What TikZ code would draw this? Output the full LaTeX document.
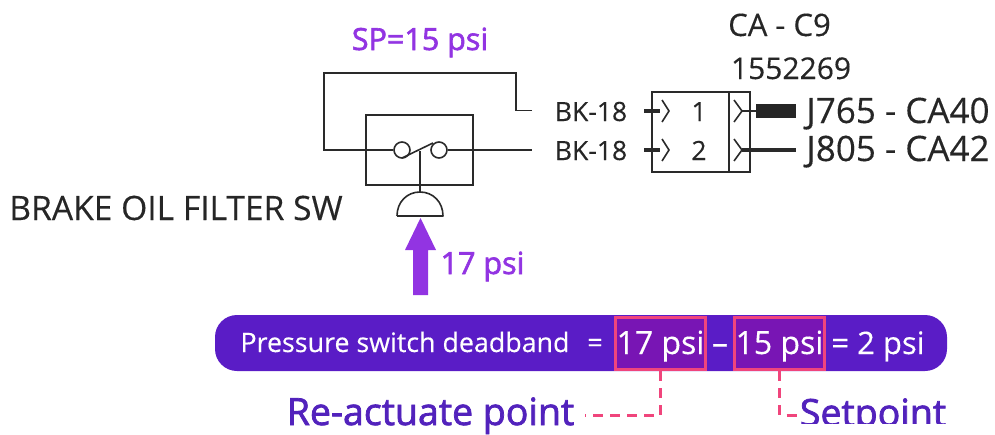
\documentclass[tikz,border=0pt]{standalone}
\usepackage{fontspec}
\setmainfont{Open Sans}[FakeBold=0.3]
\newfontfamily\semifont{Open Sans}[FakeBold=2]
\definecolor{bandfill}{HTML}{5A1CC6}
\definecolor{boxfill}{HTML}{7815B4}
\definecolor{boxline}{HTML}{F0457C}
\definecolor{headcol}{HTML}{9234E2}
\definecolor{namecol}{HTML}{5222BC}
\definecolor{wirecol}{HTML}{2A2A2A}
\newcommand{\fsize}[1]{\fontsize{#1}{#1}\selectfont}
\begin{document}
\begin{tikzpicture}[x=1pt, y=-1pt,
			wire/.style={draw=wirecol, line width=1.6pt},
			stub/.style={draw=wirecol, line width=4.5pt},
			txt/.style={inner sep=0pt, text=black!85, anchor=base},
			head/.style={inner sep=0pt, text=headcol, anchor=base, font=\semifont\fsize{30.5}},
			white txt/.style={inner sep=0pt, text=white, anchor=base},
			name txt/.style={inner sep=0pt, text=namecol, anchor=base, font=\semifont\fsize{37.5}},
			value/.style={draw=boxline, fill=boxfill, line width=3pt, minimum width=90pt, minimum height=52pt, inner sep=0pt},
			lead/.style={draw=boxline, line width=3pt, dash pattern=on 10pt off 7pt}]
			\useasboundingbox (0, 0) rectangle (995, 434);
			% switch
			\node (swbox) at (419.5, 150) [wire, minimum width=107pt, minimum height=70pt, inner sep=0pt] {};
			\node (cl) at (402, 150) [wire, fill=white, circle, minimum size=16pt, inner sep=0pt] {};
			\node (cr) at (439, 150) [wire, fill=white, circle, minimum size=16pt, inner sep=0pt] {};
			\coordinate (loop) at (324, 150);
			\coordinate (pinb) at (532, 150);
			\coordinate (pina) at (532, 110.5);
			\draw[wire] (pina) -- (516, 110.5) -- (516, 73) -- (324, 73) -- (loop) -- (cl.west);
			\draw[wire] (cr.east) -- (pinb);
			\coordinate (blade) at (402, 158);
			\coordinate (bladeend) at (433, 143);
			\draw[wire] (blade) -- (bladeend);
			\coordinate (domet) at (420, 192);
			\draw[wire] (420, 151) -- (domet);
			\draw[wire, line join=round] (397, 216) -- (443, 216) .. controls (443, 202) and (433, 192) .. (domet) .. controls (407, 192) and (397, 202) .. (397, 216);
			\node (lblsw) at (176, 220) [txt, font=\fsize{33.6}] {BRAKE OIL FILTER SW};
			\node (lblsp) at (420, 50) [head] {SP=15 psi};
			\fill[headcol] (420.5, 218) -- (436, 250) -- (428, 250) -- (428, 295) -- (413, 295) -- (413, 250) -- (405, 250) -- cycle;
			\node (lblp) at (482.5, 274) [head] {17 psi};
			% connector
			\node (conn) at (701, 132) [wire, minimum width=98pt, minimum height=80pt, inner sep=0pt] {};
			\draw[wire] (729, 92) -- (729, 172);
			\foreach \y/\n/\w in {111/1/BK-18, 150/2/BK-18}
			{
				\draw[stub] (644, \y) -- (660, \y);
				\draw[wire] (662, \y-11) -- (669, \y) -- (662, \y+11);
				\draw[wire] (734, \y-11) -- (742, \y) -- (734, \y+11);
				\node at (699, \y+10) [txt, font=\fsize{26.5}] {\n};
				\node at (591, \y+10) [txt, font=\fsize{26.5}] {\w};
			}
			\draw[wire] (742, 111) -- (757, 111);
			\fill[black!85] (756, 104) rectangle (796, 118);
			\draw[stub] (742, 150) -- (796, 150);
			\node (lblca) at (779.5, 36) [txt, font=\fsize{31}] {CA - C9};
			\node (lblpn) at (791, 79) [txt, font=\fsize{30}] {1552269};
			\node (lblj) at (898, 123) [txt, font=\fsize{35}] {J765 - CA40};
			\node (lblk) at (898, 161) [txt, font=\fsize{35}] {J805 - CA42};
			% band
			\fill[bandfill, rounded corners=22pt] (215, 315) rectangle (947, 371);
			\node (va) at (660.5, 343.5) [value] {};
			\node (vb) at (779.5, 343.5) [value] {};
			\node (eqa) at (405, 352) [white txt, font=\fsize{26.8}] {Pressure switch deadband};
			\node (eqb) at (595, 352) [white txt, font=\fsize{26.8}] {=};
			\node (eqc) at (660.5, 354) [white txt, font=\fsize{32}] {17 psi};
			\node (eqd) at (720, 354) [white txt, font=\fsize{32}] {–};
			\node (eqe) at (779.5, 354) [white txt, font=\fsize{32}] {15 psi};
			\node (eqf) at (878, 354) [white txt, font=\fsize{31}] {= 2 psi};
			% names
			\node (nama) at (430.5, 425) [name txt] {Re-actuate point};
			\node (namb) at (873, 426) [name txt] {Setpoint};
			\coordinate (ca) at (585, 415);
			\coordinate (cb) at (797, 415);
			\draw[lead] (va.south) -- (va.south |- ca) -- (ca);
			\draw[lead] (vb.south) -- (vb.south |- cb) -- (cb);
			\fill[white] (750, 424) rectangle (995, 440);
			\end{tikzpicture}
\end{document}
